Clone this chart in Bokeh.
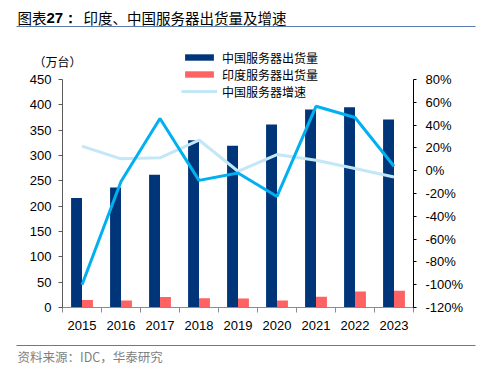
from bokeh.plotting import figure
from bokeh.models import (ColumnDataSource, Range1d, LinearAxis, FixedTicker,
                          PrintfTickFormatter, Label, BoxAnnotation, Legend, LegendItem)
from bokeh.transform import dodge
from bokeh.embed import file_html
from bokeh.resources import INLINE

years = ["2015", "2016", "2017", "2018", "2019", "2020", "2021", "2022", "2023"]
china_shipments = [216, 237, 262, 330, 319, 361, 391, 395, 371]   # 万台
india_shipments = [15, 14, 20.5, 18.5, 18, 14, 21, 31.5, 33]       # 万台
china_growth = [21.6, 10.4, 11.3, 26.9, -0.5, 14.2, 9.2, 1.9, -5.5]  # %
india_growth = [-100, -9.4, 45.8, -8.5, -2.0, -22.6, 56.5, 46.7, 3.9]  # %
left_ticks = [0, 50, 100, 150, 200, 250, 300, 350, 400, 450]
right_ticks = [-120, -100, -80, -60, -40, -20, 0, 20, 40, 60, 80]

NAVY = "#003679"
RED = "#FF6262"
BRIGHT = "#00B0F0"
LIGHT = "#C3E7F7"
RULE = "#5B7BAF"
NUM_FONT = "Liberation Sans"
CJK = "Noto Sans CJK SC"

# canvas / plot-area layout in pixels (frame = whole canvas)
W, H = 489, 368
AX_L, AX_R = 62, 413      # left / right axis x (from left)
AX_T, AX_B = 79, 307      # top / bottom of value axes (from top)

n = len(years)
xs = (AX_R - AX_L) / n
x0 = -0.5 - AX_L / xs
x1 = n - 0.5 + (W - AX_R) / xs
ls = (AX_B - AX_T) / (left_ticks[-1] - left_ticks[0])
ly0 = left_ticks[0] - (H - AX_B) / ls
ly1 = left_ticks[-1] + AX_T / ls
rs = (AX_B - AX_T) / (right_ticks[-1] - right_ticks[0])
ry0 = right_ticks[0] - (H - AX_B) / rs
ry1 = right_ticks[-1] + AX_T / rs

idx = list(range(n))
src = ColumnDataSource(dict(x=idx, china=china_shipments, india=india_shipments,
                            cg=china_growth, ig=india_growth))

p = figure(width=W, height=H, output_backend="svg", toolbar_location=None,
           x_range=Range1d(x0, x1), y_range=Range1d(ly0, ly1),
           min_border=0, min_border_left=0, min_border_right=0,
           min_border_top=0, min_border_bottom=0)
p.extra_y_ranges = {"g": Range1d(ry0, ry1)}
p.outline_line_color = None
p.xgrid.visible = False
p.ygrid.visible = False
p.background_fill_color = "white"
p.border_fill_color = "white"

r_cn = p.vbar(x=dodge("x", -0.14), top="china", width=0.28, source=src,
              fill_color=NAVY, line_color=None)
r_in = p.vbar(x=dodge("x", 0.14), top="india", width=0.28, source=src,
              fill_color=RED, line_color=None)
r_cg = p.line(x="x", y="cg", source=src, y_range_name="g", line_color=LIGHT, line_width=3)
r_ig = p.line(x="x", y="ig", source=src, y_range_name="g", line_color=BRIGHT, line_width=3)

# x axis
xa = p.xaxis[0]
xa.fixed_location = left_ticks[0]
xa.bounds = (-0.5, n - 0.5)
xa.ticker = FixedTicker(ticks=idx, minor_ticks=[i - 0.5 for i in range(n + 1)])
xa.major_label_overrides = {i: y for i, y in zip(idx, years)}
xa.major_tick_line_color = None
xa.major_tick_out = 0
xa.minor_tick_out = 5
xa.minor_tick_in = 0
xa.minor_tick_line_color = "#8C8C8C"
xa.axis_line_color = "#8C8C8C"
xa.major_label_standoff = 8
xa.major_label_text_font = NUM_FONT
xa.major_label_text_font_size = "13px"
xa.major_label_text_color = "#000000"

# left axis
ya = p.yaxis[0]
ya.fixed_location = -0.5
ya.bounds = (left_ticks[0], left_ticks[-1])
ya.ticker = FixedTicker(ticks=left_ticks)
ya.major_tick_out = 4
ya.major_tick_in = 0
ya.minor_tick_line_color = None
ya.axis_line_color = "#595959"
ya.major_tick_line_color = "#595959"
ya.major_label_standoff = 7
ya.major_label_text_font = NUM_FONT
ya.major_label_text_font_size = "13px"
ya.major_label_text_color = "#000000"

# right axis
ra = LinearAxis(y_range_name="g", ticker=FixedTicker(ticks=right_ticks),
                formatter=PrintfTickFormatter(format="%d%%"))
ra.fixed_location = n - 0.5
ra.bounds = (right_ticks[0], right_ticks[-1])
ra.major_tick_out = 3
ra.major_tick_in = 0
ra.minor_tick_line_color = None
ra.axis_line_color = "#000000"
ra.major_tick_line_color = "#000000"
ra.major_label_standoff = 9
ra.major_label_text_font = NUM_FONT
ra.major_label_text_font_size = "13px"
ra.major_label_text_color = "#000000"
p.add_layout(ra, "right")

# legend
legend = Legend(items=[
    LegendItem(label="中国服务器出货量", renderers=[r_cn]),
    LegendItem(label="印度服务器出货量", renderers=[r_in]),
    LegendItem(label="中国服务器增速", renderers=[r_cg]),
], location=(181, H - 99.5), orientation="vertical",
    glyph_width=36, glyph_height=8, label_height=12, spacing=-1, padding=0, margin=0,
    label_standoff=5, border_line_color=None, background_fill_alpha=0,
    label_text_font=CJK, label_text_font_size="12px", label_text_color="#000000")
p.add_layout(legend, "center")

def lab(x, y_top, text, font=CJK, size="14px", style="normal", color="#000000"):
    p.add_layout(Label(x=x, y=H - y_top, x_units="screen", y_units="screen", text=text,
                       text_font=font, text_font_size=size, text_font_style=style,
                       text_baseline="middle", text_color=color))

def rule(y_top, left=16, right=475):
    p.add_layout(BoxAnnotation(left=left, right=right, bottom=H - y_top - 0.5,
                               top=H - y_top + 0.5,
                               left_units="screen", right_units="screen",
                               bottom_units="screen", top_units="screen",
                               fill_color=RULE, fill_alpha=1, line_color=None))

lab(17, 17, "图表", size="14.5px")
lab(46, 17, "27：", font=NUM_FONT, size="15px", style="bold")
lab(83, 17, "印度、中国服务器出货量及增速", size="14.5px")
rule(26)
lab(33, 61, "（万台）", size="12px")
rule(345)
lab(17, 356, "资料来源：IDC，华泰研究", size="12.5px", color="#7F7F7F")

open("out.html", "w").write(file_html(p, INLINE))
